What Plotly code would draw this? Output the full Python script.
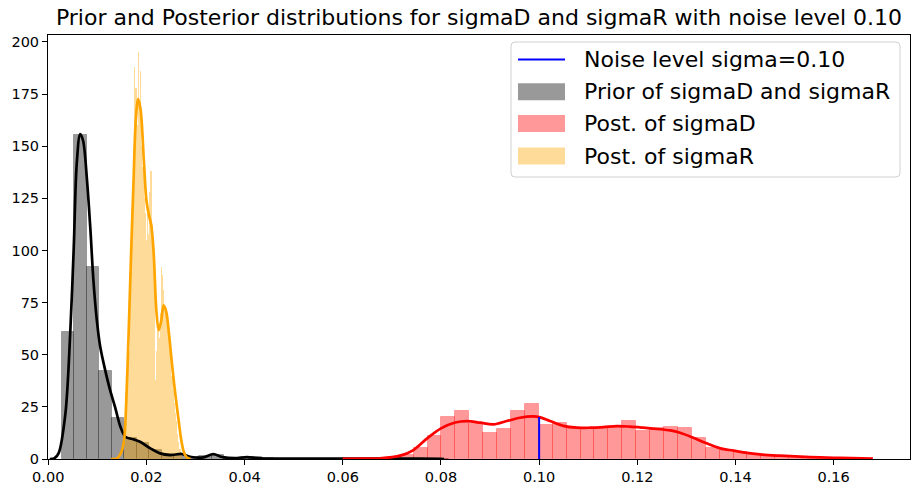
import numpy as np
import plotly.graph_objects as go

# ---------------------------------------------------------------------------
# Histogram densities (equal-width bins: first left edge, bin width, heights)
# ---------------------------------------------------------------------------
prior_bin_start = 0.00279
prior_bin_width = 0.002546
prior_density = [61, 155.5, 92.3, 42.3, 19.6, 10, 7.5, 4.5, 2.5, 2.0,
                 1.2, 1.5, 1.8, 0.6, 0.7, 0.8, 0.3, 0.2, 0.2, 0.2,
                 0.2, 0.2, 0.15, 0.15, 0.15, 0.1, 0.1, 0.1, 0.1, 0.1, 0.1]

sigmaD_bin_start = 0.06876
sigmaD_bin_width = 0.002834
sigmaD_density = [0.6, 2.1, 5.4, 11.2, 20.0, 22.8, 17.0, 12.7, 14.5, 22.8,
                  26.3, 16.3, 17.1, 14.7, 14.7, 14.8, 15.3, 18.2, 13.6, 14.7,
                  15.3, 14.7, 9.9, 5.1, 4.0, 3.2, 2.2, 1.9, 1.3, 1.0,
                  0.7, 0.5, 0.3]

sigmaR_bin_start = 0.0154
sigmaR_bin_width = 0.000236
sigmaR_density = [4, 8, 18, 35, 52, 75, 95, 118, 145, 188,
                  178, 160, 195, 170, 186, 150, 140, 125, 118, 105,
                  122, 108, 128, 138, 112, 95, 85, 38, 52, 62,
                  58, 70, 92, 88, 81, 72, 68, 62, 60, 55,
                  48, 40, 33, 27, 22, 18, 12, 8, 5, 3]

# ---------------------------------------------------------------------------
# Kernel density estimates
# ---------------------------------------------------------------------------
prior_kde_x = [0.0003, 0.0012, 0.0021, 0.0035, 0.0045, 0.0052, 0.0058, 0.0065,
               0.0071, 0.0079, 0.0086, 0.0092, 0.0099, 0.0106, 0.0116, 0.0126,
               0.0136, 0.0147, 0.0157, 0.0174, 0.0187, 0.0208, 0.0228, 0.0248,
               0.0272, 0.0289, 0.0316, 0.0336, 0.0355, 0.0380, 0.0405, 0.0430,
               0.0500, 0.0600, 0.0700, 0.0800, 0.0806]
prior_kde_y = [0.0, 0.3, 2.7, 21.9, 61.7, 101.6, 141.5, 155.8,
               152.6, 133.5, 109.6, 85.6, 66.5, 53.7, 42.6, 33.0,
               25.0, 15.5, 10.7, 9.4, 8.3, 5.1, 2.7, 1.9,
               2.4, 1.1, 0.8, 2.3, 0.9, 0.4, 0.9, 0.3,
               0.25, 0.2, 0.15, 0.1, 0.0]

sigmaD_kde_x = [0.0600, 0.0640, 0.0676, 0.0717, 0.0744, 0.0772, 0.0800, 0.0829,
                0.0853, 0.0880, 0.0907, 0.0934, 0.0961, 0.0988, 0.1000, 0.1022,
                0.1049, 0.1077, 0.1104, 0.1131, 0.1158, 0.1185, 0.1212, 0.1240,
                0.1267, 0.1287, 0.1314, 0.1341, 0.1369, 0.1396, 0.1423, 0.1450,
                0.1490, 0.1532, 0.1572, 0.1613, 0.1680]
sigmaD_kde_y = [0.05, 0.15, 0.3, 1.6, 4.3, 9.9, 14.7, 17.5,
                18.2, 17.4, 16.6, 18.2, 19.8, 20.4, 20.1, 18.2,
                15.9, 15.0, 15.0, 15.3, 15.8, 15.5, 15.0, 14.4,
                13.7, 12.6, 10.2, 7.5, 5.1, 4.0, 2.9, 2.2,
                1.6, 1.1, 0.8, 0.5, 0.2]

sigmaR_kde_x = [0.0128, 0.0140, 0.0150, 0.0155, 0.0159, 0.0164, 0.0169, 0.0174,
                0.0178, 0.0183, 0.0188, 0.0195, 0.0200, 0.0205, 0.0210, 0.0215,
                0.0220, 0.0225, 0.0230, 0.0235, 0.0240, 0.0246, 0.0251, 0.0256,
                0.0261, 0.0266, 0.0271, 0.0276, 0.0282, 0.0290]
sigmaR_kde_y = [0.0, 0.3, 4.0, 10.0, 28.0, 62.0, 100.0, 135.0,
                161.0, 172.6, 167.8, 142.0, 124.0, 117.0, 112.0, 97.6,
                72.0, 61.7, 66.0, 73.7, 71.0, 60.0, 48.0, 37.0,
                27.0, 17.8, 9.0, 3.5, 0.8, 0.0]

noise_level = 0.10

legend_labels = ["Noise level sigma=0.10", "Prior of sigmaD and sigmaR",
                 "Post. of sigmaD", "Post. of sigmaR"]

title_text = "Prior and Posterior distributions for sigmaD and sigmaR with noise level 0.10"
x_ticks = [0.00, 0.02, 0.04, 0.06, 0.08, 0.10, 0.12, 0.14, 0.16]
y_ticks = [0, 25, 50, 75, 100, 125, 150, 175, 200]

# ---------------------------------------------------------------------------
FONT = "DejaVu Sans"
GRAY_FILL = "rgba(0,0,0,0.4)"
RED_FILL = "rgba(255,0,0,0.4)"
ORANGE_FILL = "rgba(255,165,0,0.4)"


def bin_centers(start, width, heights):
    n = len(heights)
    return start + width * (np.arange(n) + 0.5), np.full(n, width)


fig = go.Figure()

for start, width, dens, fill, edge, lw in [
    (prior_bin_start, prior_bin_width, prior_density, GRAY_FILL, "rgba(0,0,0,0.25)", 1.0),
    (sigmaD_bin_start, sigmaD_bin_width, sigmaD_density, RED_FILL, "rgba(255,0,0,0.25)", 1.0),
    (sigmaR_bin_start, sigmaR_bin_width, sigmaR_density, ORANGE_FILL, "rgba(255,165,0,0.0)", 0.0),
]:
    cx, w = bin_centers(start, width, dens)
    fig.add_trace(go.Bar(x=cx, y=dens, width=w, marker=dict(color=fill, line=dict(color=edge, width=lw)),
                         showlegend=False, hoverinfo="skip"))

for xs, ys, col in [(prior_kde_x, prior_kde_y, "black"),
                    (sigmaD_kde_x, sigmaD_kde_y, "red"),
                    (sigmaR_kde_x, sigmaR_kde_y, "orange")]:
    fig.add_trace(go.Scatter(x=xs, y=ys, mode="lines",
                             line=dict(color=col, width=2.7, shape="spline", smoothing=0.9),
                             showlegend=False, hoverinfo="skip"))

# vertical marker at the true noise level, up to the posterior density there
noise_height = float(np.interp(noise_level, sigmaD_kde_x, sigmaD_kde_y))
fig.add_trace(go.Scatter(x=[noise_level, noise_level], y=[0, noise_height], mode="lines",
                         line=dict(color="blue", width=2), showlegend=False, hoverinfo="skip"))

# ---------------------------------------------------------------------------
# Layout
# ---------------------------------------------------------------------------
W, H = 912, 493
ML, MR, MT, MB = 48, 2, 35, 34
PW, PH = W - ML - MR, H - MT - MB


def px(xp):
    return (xp - ML) / PW


def py(yp):
    return (H - MB - yp) / PH


shapes = []
annotations = []

# legend frame with rounded corners
x0, x1, y0, y1 = px(511), px(900), py(177), py(42)
rx, ry = 4 / PW, 4 / PH
path = (f"M{x0 + rx},{y1} L{x1 - rx},{y1} Q{x1},{y1} {x1},{y1 - ry} "
        f"L{x1},{y0 + ry} Q{x1},{y0} {x1 - rx},{y0} "
        f"L{x0 + rx},{y0} Q{x0},{y0} {x0},{y0 + ry} "
        f"L{x0},{y1 - ry} Q{x0},{y1} {x0 + rx},{y1} Z")
shapes.append(dict(type="path", xref="paper", yref="paper", path=path,
                   fillcolor="rgba(255,255,255,0.8)", line=dict(color="#d0d0d0", width=1)))

row_y = [59.5, 91.7, 123.5, 156.0]
handle_fill = [None, GRAY_FILL, RED_FILL, ORANGE_FILL]
for label, yc, fill in zip(legend_labels, row_y, handle_fill):
    if fill is None:
        shapes.append(dict(type="line", xref="paper", yref="paper",
                           x0=px(518), x1=px(565), y0=py(yc), y1=py(yc),
                           line=dict(color="blue", width=2)))
    else:
        shapes.append(dict(type="rect", xref="paper", yref="paper",
                           x0=px(518), x1=px(565), y0=py(yc + 8.5), y1=py(yc - 8.5),
                           fillcolor=fill, line=dict(width=0)))
    annotations.append(dict(xref="paper", yref="paper", x=px(582), y=py(yc),
                            xanchor="left", yanchor="middle", showarrow=False,
                            text=label, font=dict(family=FONT, size=22, color="black")))

axis_common = dict(showline=True, linecolor="black", linewidth=1, mirror=True,
                   ticks="outside", ticklen=5, tickwidth=1, tickcolor="black",
                   showgrid=False, zeroline=False,
                   tickfont=dict(family=FONT, size=14.5, color="black"))

fig.update_layout(
    width=W, height=H,
    margin=dict(l=ML, r=MR, t=MT, b=MB, pad=0),
    paper_bgcolor="white", plot_bgcolor="white",
    barmode="overlay", bargap=0,
    showlegend=False,
    title=dict(text=title_text, x=0.5, xref="paper", xanchor="center",
               y=1 - 17 / H, yref="container", yanchor="middle",
               font=dict(family=FONT, size=22, color="black")),
    xaxis=dict(range=[-0.00005, 0.17555], tickvals=x_ticks, tickformat=".2f", **axis_common),
    yaxis=dict(range=[0, 203.3], tickvals=y_ticks, **axis_common),
    shapes=shapes,
    annotations=annotations,
)

fig.write_html("out.html")
